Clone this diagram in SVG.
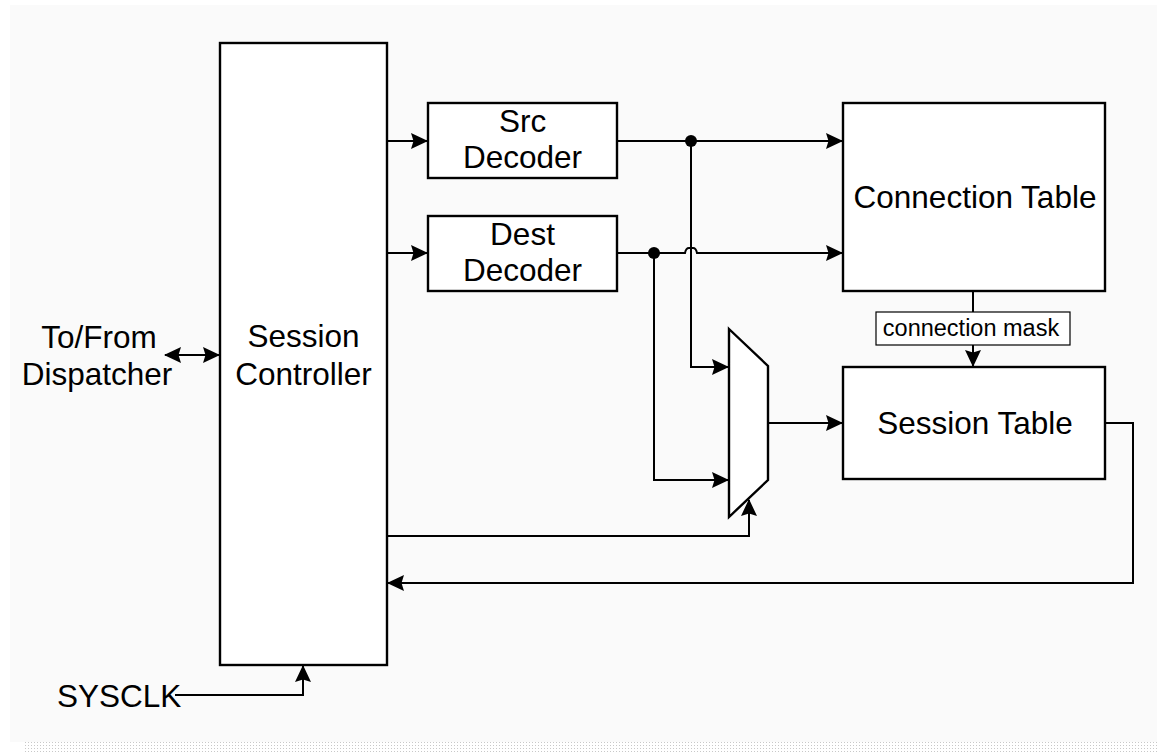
<svg xmlns="http://www.w3.org/2000/svg" width="1157" height="754" viewBox="0 0 1157 754">
<defs>
<style>
.box{fill:#fff;stroke:#000;stroke-width:2.4}
.ln{fill:none;stroke:#000;stroke-width:2}
.t{font-family:"Liberation Sans",Arial,sans-serif;font-size:31.5px;fill:#000;text-anchor:middle}
.s{font-family:"Liberation Sans",Arial,sans-serif;font-size:23.5px;fill:#000;text-anchor:middle}
</style>
<marker id="ar" viewBox="0 0 17 16" markerWidth="17" markerHeight="16" refX="16" refY="8" orient="auto" markerUnits="userSpaceOnUse">
<path d="M0,0 L17,8 L0,16 L2.5,8 z" fill="#000"/>
</marker>
<marker id="ars" viewBox="0 0 17 16" markerWidth="17" markerHeight="16" refX="16" refY="8" orient="auto-start-reverse" markerUnits="userSpaceOnUse">
<path d="M0,0 L17,8 L0,16 L2.5,8 z" fill="#000"/>
</marker>
<pattern id="dots" width="3" height="3" patternUnits="userSpaceOnUse">
<rect width="3" height="3" fill="#fff"/>
<rect x="1" y="1" width="1" height="1" fill="#c8c8c8"/>
</pattern>
</defs>
<rect x="0" y="0" width="1157" height="754" fill="#fff"/>
<rect x="10" y="5" width="1147" height="737" fill="#fafafa"/>
<rect x="25" y="742" width="1132" height="12" fill="url(#dots)"/>

<g id="connectors">
<line class="ln" x1="165" y1="355" x2="219" y2="355" marker-start="url(#ars)" marker-end="url(#ars)"/>
<line class="ln" x1="387" y1="141" x2="427" y2="141" marker-end="url(#ar)"/>
<line class="ln" x1="387" y1="253" x2="427" y2="253" marker-end="url(#ar)"/>
<line class="ln" x1="617" y1="141" x2="842" y2="141" marker-end="url(#ar)"/>
<path class="ln" d="M617,253 H685 Q686,248 689,248 H693 Q696,248 697,253 H842" marker-end="url(#ar)"/>
<path class="ln" d="M691,141 V367 H728" marker-end="url(#ar)"/>
<path class="ln" d="M654,253 V480 H728" marker-end="url(#ar)"/>
<line class="ln" x1="768" y1="423" x2="842" y2="423" marker-end="url(#ar)"/>
<path class="ln" d="M387,536 H749 V500" marker-end="url(#ar)"/>
<path class="ln" d="M1105,423 H1133 V583 H388" marker-end="url(#ar)"/>
<line class="ln" x1="973" y1="291" x2="973" y2="366" marker-end="url(#ar)"/>
<path class="ln" d="M175,695 H303 V666" marker-end="url(#ar)"/>
<circle cx="691" cy="141" r="6" fill="#000"/>
<circle cx="654" cy="253" r="6" fill="#000"/>
</g>

<g id="dispatcher">
<text class="t" x="99" y="348">To/From</text>
<text class="t" x="97" y="385">Dispatcher</text>
</g>

<g id="session-controller">
<rect class="box" x="220" y="43" width="167" height="622"/>
<text class="t" x="303.5" y="347">Session</text>
<text class="t" x="303.5" y="385">Controller</text>
</g>

<g id="src-decoder">
<rect class="box" x="428" y="103" width="189" height="75"/>
<text class="t" x="522.5" y="132">Src</text>
<text class="t" x="522.5" y="168">Decoder</text>
</g>

<g id="dest-decoder">
<rect class="box" x="428" y="216" width="189" height="75"/>
<text class="t" x="522.5" y="245">Dest</text>
<text class="t" x="522.5" y="281">Decoder</text>
</g>

<g id="connection-table">
<rect class="box" x="843" y="103" width="262" height="188"/>
<text class="t" x="975" y="208">Connection Table</text>
</g>

<g id="mask-label">
<rect x="876" y="312" width="194" height="33" fill="#fff" stroke="#000" stroke-width="1.2"/>
<text class="s" x="971" y="336">connection mask</text>
</g>

<g id="session-table">
<rect class="box" x="843" y="367" width="262" height="112"/>
<text class="t" x="975" y="434">Session Table</text>
</g>

<g id="mux">
<polygon class="box" points="729,329 768,366 768,480 729,517"/>
</g>

<g id="sysclk">
<text class="t" x="57" y="707" style="text-anchor:start">SYSCLK</text>
</g>
</svg>
